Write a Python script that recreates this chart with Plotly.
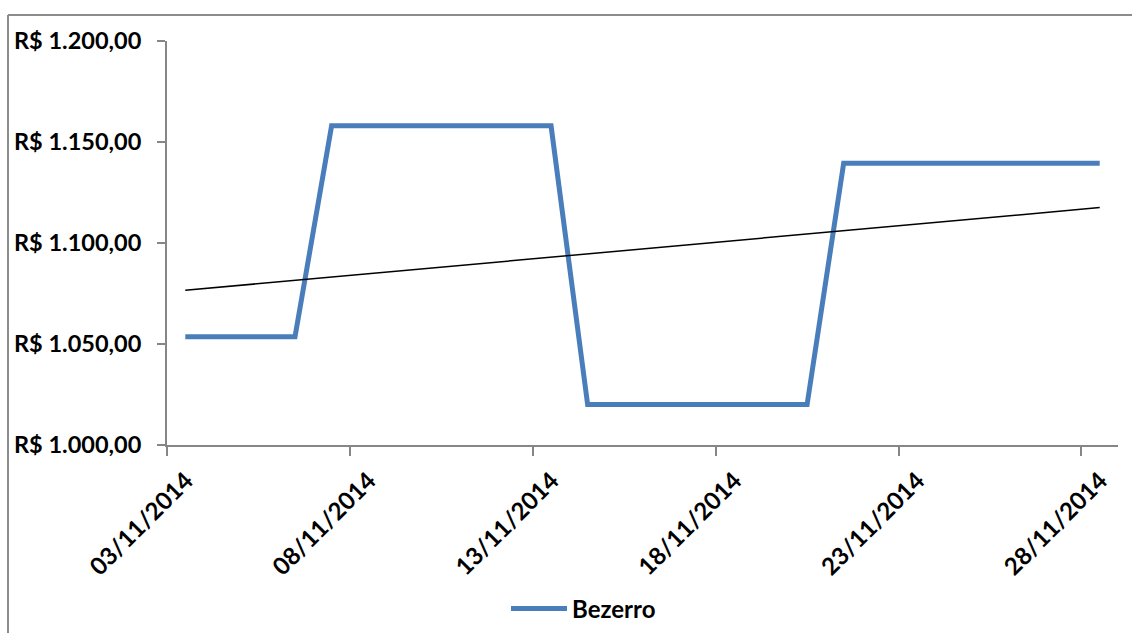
import numpy as np
import pandas as pd
import plotly.graph_objects as go

# ---- data (business days, Nov 2014) ----
dates = ["2014-11-03", "2014-11-04", "2014-11-05", "2014-11-06", "2014-11-07",
         "2014-11-10", "2014-11-11", "2014-11-12", "2014-11-13", "2014-11-14",
         "2014-11-17", "2014-11-18", "2014-11-19", "2014-11-20", "2014-11-21",
         "2014-11-24", "2014-11-25", "2014-11-26", "2014-11-27", "2014-11-28"]
bezerro = [1053.6, 1053.6, 1053.6, 1053.6, 1158.0,
           1158.0, 1158.0, 1158.0, 1158.0, 1020.0,
           1020.0, 1020.0, 1020.0, 1020.0, 1139.5,
           1139.5, 1139.5, 1139.5, 1139.5, 1139.5]
series_name = "Bezerro"

y_tickvals = [1000, 1050, 1100, 1150, 1200]
y_ticktext = ["R$ 1.000,00", "R$ 1.050,00", "R$ 1.100,00", "R$ 1.150,00", "R$ 1.200,00"]
x_tickvals = ["2014-11-03", "2014-11-08", "2014-11-13", "2014-11-18", "2014-11-23", "2014-11-28"]
x_ticktext = ["03/11/2014", "08/11/2014", "13/11/2014", "18/11/2014", "23/11/2014", "28/11/2014"]
x_range = ["2014-11-03", "2014-11-29"]

# ---- linear trendline (least squares on date serial) ----
d = pd.to_datetime(dates)
t = np.array([(v - d[0]).days for v in d], dtype=float)
slope, intercept = np.polyfit(t, np.array(bezerro), 1)
trend_dates = [dates[0], dates[-1]]
trend_vals = [intercept + slope * t[0], intercept + slope * t[-1]]

FONT = "Lato"
BLUE = "#4a7ebb"
AX = "#868686"

fig = go.Figure()
fig.add_trace(go.Scatter(
    x=dates, y=bezerro, name=series_name, mode="lines",
    line=dict(color=BLUE, width=5),
    xperiod=86400000, xperiodalignment="middle",
))
fig.add_trace(go.Scatter(
    x=trend_dates, y=trend_vals, mode="lines", showlegend=False,
    line=dict(color="#000000", width=1.5),
    xperiod=86400000, xperiodalignment="middle",
))

W, H = 1132, 633
L, R, T, B = 167, 14, 41, 188
pw, ph = W - L - R, H - T - B

def px_x(v):
    return (v - L) / pw

def px_y(v):
    return (H - B - v) / ph

shapes = [
    dict(type="line", xref="paper", yref="paper",
         x0=px_x(8), x1=px_x(1132), y0=px_y(15), y1=px_y(15),
         line=dict(color="#8c8c8c", width=2)),
    dict(type="line", xref="paper", yref="paper",
         x0=px_x(8), x1=px_x(8), y0=px_y(15), y1=px_y(633),
         line=dict(color="#8c8c8c", width=2)),
]

fig.update_layout(
    width=W, height=H,
    margin=dict(l=L, r=R, t=T, b=B, pad=0, autoexpand=False),
    paper_bgcolor="white", plot_bgcolor="white",
    font=dict(family=FONT, size=22, color="#000000"),
    shapes=shapes,
    showlegend=True,
    legend=dict(
        orientation="h", x=(506) / W, xref="container", xanchor="left",
        y=1 - 609 / H, yref="container", yanchor="middle",
        font=dict(family=FONT, size=24, color="#000000", weight="bold"),
        itemwidth=56, bgcolor="rgba(0,0,0,0)",
    ),
    xaxis=dict(
        type="date", range=x_range,
        tickvals=x_tickvals, ticktext=x_ticktext, tickangle=-45,
        showgrid=False, zeroline=False,
        showline=True, linecolor=AX, linewidth=2,
        ticks="outside", ticklen=9, tickcolor=AX, tickwidth=2,
        ticklabelshift=19, ticklabelstandoff=1,
        tickfont=dict(family=FONT, size=24, color="#000000", weight="bold"),
    ),
    yaxis=dict(
        range=[1000, 1200],
        tickvals=y_tickvals, ticktext=y_ticktext,
        showgrid=False, zeroline=False,
        showline=True, linecolor=AX, linewidth=2,
        ticks="outside", ticklen=8, tickcolor=AX, tickwidth=2,
        ticklabelstandoff=11,
        tickfont=dict(family=FONT, size=23.5, color="#000000", weight="bold"),
    ),
)

fig.write_html("out.html")
